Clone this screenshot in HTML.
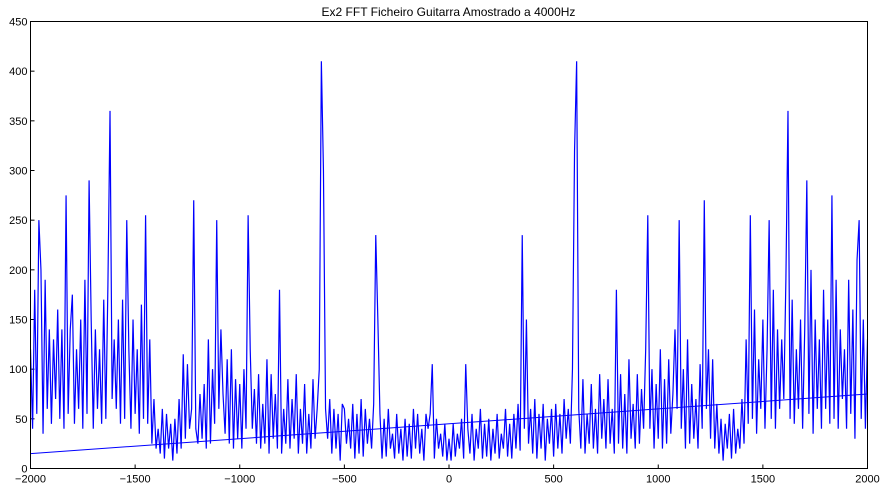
<!DOCTYPE html>
<html><head><meta charset="utf-8"><style>
html,body{margin:0;padding:0;background:#fff;}
svg{display:block;font-family:"Liberation Sans",sans-serif;}
</style></head><body>
<svg id="chart" width="887" height="489">
<defs><clipPath id="plotclip"><rect x="30.5" y="21.5" width="837" height="447"/></clipPath></defs>
<text x="448.5" y="16" text-anchor="middle" font-size="12">Ex2 FFT Ficheiro Guitarra Amostrado a 4000Hz</text>
<g id="ticks"></g>
<g id="series" clip-path="url(#plotclip)"></g>
<rect x="30.5" y="21.5" width="837" height="447" fill="none" stroke="#000" stroke-width="1"/>
</svg>
<script>
const xTicks=[-2000,-1500,-1000,-500,0,500,1000,1500,2000];
const xTickLabels=["\u22122000","\u22121500","\u22121000","\u2212500","0","500","1000","1500","2000"];
const yTicks=[0,50,100,150,200,250,300,350,400,450];
const freqStart=-2000, freqStep=10;
const amplitudes=[
120,40,180,55,250,200,35,190,60,140,
45,130,70,160,50,140,40,275,55,140,
175,45,120,60,150,40,190,55,290,150,
40,140,60,120,45,170,50,185,360,70,
130,60,150,45,170,50,250,120,40,150,
55,120,35,165,50,255,45,130,25,70,
20,40,15,60,10,55,20,45,8,50,
15,70,20,115,30,105,40,60,270,40,
25,75,30,85,20,130,25,100,45,250,
60,140,75,35,110,25,120,20,90,30,
85,20,100,40,255,120,40,80,25,95,
20,65,25,110,15,95,30,75,20,180,
15,60,25,90,20,70,30,95,15,60,
25,85,15,55,20,90,30,60,100,410,
300,60,30,70,15,60,20,55,8,65,
60,25,50,20,65,10,55,15,70,12,
60,25,50,20,65,235,150,55,10,50,
12,60,20,35,10,55,15,40,8,50,
12,45,10,60,20,55,15,40,8,55,
40,55,105,10,50,20,35,12,45,8,
30,8,45,12,35,20,50,10,105,40,
15,55,8,40,20,60,10,45,12,50,
8,40,15,55,10,35,20,60,12,45,
10,55,20,65,18,235,40,150,25,60,
15,70,10,55,20,65,8,50,25,60,
12,65,20,55,15,70,30,60,25,100,
320,410,60,20,90,15,55,25,85,20,
60,15,95,30,70,20,90,25,60,15,
180,25,95,20,75,15,110,30,65,20,
95,25,80,40,120,255,40,100,20,85,
30,120,20,90,25,110,35,75,140,60,
250,40,100,20,130,25,85,30,70,20,
105,40,270,60,120,30,110,20,65,15,
50,8,45,20,55,10,60,15,40,20,
70,25,130,45,255,50,160,35,110,60,
150,40,120,250,50,180,40,140,60,130,
70,190,360,50,170,45,120,60,150,40,
140,290,55,200,35,150,60,130,40,180,
60,150,45,275,50,190,40,140,70,120,
40,190,55,160,30,210,250,50,150,40,
130];
const trendFreq=[-2000,2000];
const trendVals=[15,75];

const L=30.5,R=867.5,T=21.5,B=468.5;
const xs=v=>L+(v+2000)/4000*(R-L);
const ys=v=>B-v/450*(B-T);
const NS="http://www.w3.org/2000/svg";
const tg=document.getElementById('ticks');
xTicks.forEach((t,i)=>{
  const x=xs(t);
  const a=document.createElementNS(NS,'line');
  a.setAttribute('x1',x);a.setAttribute('x2',x);a.setAttribute('y1',B);a.setAttribute('y2',B-4);a.setAttribute('stroke','#000');
  
  
  tg.appendChild(a);
  const l=document.createElementNS(NS,'text');
  l.setAttribute('x',x);l.setAttribute('y',B+14);l.setAttribute('text-anchor','middle');l.setAttribute('font-size','11');
  l.textContent=xTickLabels[i];
  
  
  tg.appendChild(l);
});
yTicks.forEach(t=>{
  const y=ys(t);
  const a=document.createElementNS(NS,'line');
  a.setAttribute('x1',L);a.setAttribute('x2',L+4);a.setAttribute('y1',y);a.setAttribute('y2',y);a.setAttribute('stroke','#000');
  
  
  tg.appendChild(a);
  const l=document.createElementNS(NS,'text');
  l.setAttribute('x',L-3);l.setAttribute('y',y+4);l.setAttribute('text-anchor','end');l.setAttribute('font-size','11');
  l.textContent=t;
  
  
  tg.appendChild(l);
});
const sg=document.getElementById('series');
const pts=amplitudes.map((v,i)=>xs(freqStart+i*freqStep).toFixed(2)+','+ys(v).toFixed(2)).join(' ');
const pl=document.createElementNS(NS,'polyline');
pl.setAttribute('points',pts);
pl.setAttribute('fill','none');
pl.setAttribute('stroke','#0000ff');
pl.setAttribute('stroke-width','1.2');


sg.appendChild(pl);
const tl=document.createElementNS(NS,'polyline');
tl.setAttribute('points',trendFreq.map((f,i)=>xs(f)+','+ys(trendVals[i])).join(' '));
tl.setAttribute('fill','none');
tl.setAttribute('stroke','#0000ff');
tl.setAttribute('stroke-width','1');


sg.appendChild(tl);
</script>
</body></html>
